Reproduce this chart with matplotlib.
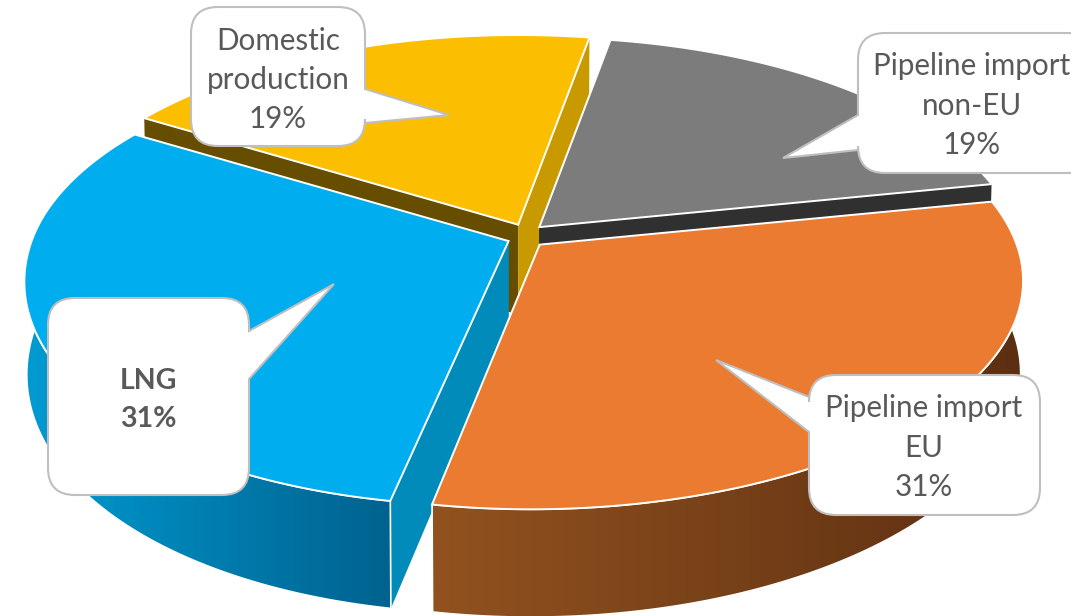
import numpy as np
import matplotlib
matplotlib.use('Agg')
import matplotlib.pyplot as plt
from matplotlib.colors import LinearSegmentedColormap
from matplotlib.patches import PathPatch, Polygon
from matplotlib.path import Path

categories = ['Pipeline import\nnon-EU', 'Pipeline import\nEU', 'LNG', 'Domestic\nproduction']
values = [19, 31, 31, 19]
top_colors = ['#7C7C7C', '#EB7B30', '#00AEEF', '#FBBE00']
start_wall = ['#303030', '#8A4B20', '#008BBB', '#664D00']
end_wall = ['#303030', '#8A4B20', '#008BBB', '#C99900']
outer_left = ['#303030', '#92521F', '#009BD2', '#664D00']
outer_right = ['#303030', '#5C2F12', '#00628F', '#664D00']

# callouts: box x0, x1, y0, y1, pointer tip, pointer base on the side
boxes = [(858, 1095, 33, 173), (809, 1040, 375, 515), (48, 249, 298, 495), (191, 365, 7, 146)]
tips = [(783, 158), (716, 360), (334, 284), (449, 115)]
bases = [(115, 150), (397, 432), (331, 379), (89, 123)]
text_x = [972, 924, 148, 278]
text_y = [106, 448, 400, 80]
bold = [False, False, True, False]

# pie geometry
cx, cy = 526, 236
R, A = 477, 221
k = 0.165
depth = 90
shrink = 0.995
front_skew = [0, 9, 20, 0]
explode_x, explode_y = 0.04, 0.056
start_angle = 80


def rim(t, ax0, ay0, skew, x_scale=1.0, drop=0.0):
    c, s = np.cos(t), np.sin(t)
    d = 1 + k * s
    x = R * c / d - skew * np.minimum(s, 0) ** 2
    return ax0 + x_scale * x, ay0 - A * s / d + drop / d


def callout_path(box, tip, base, r=27):
    x0, x1, y0, y1 = box
    verts = [(x0 + r, y0), (x1 - r, y0), (x1, y0), (x1, y0 + r)]
    codes = [Path.MOVETO, Path.LINETO, Path.CURVE3, Path.CURVE3]
    if tip[0] > x1:
        verts += [(x1, base[0]), tip, (x1, base[1])]
        codes += [Path.LINETO] * 3
    verts += [(x1, y1 - r), (x1, y1), (x1 - r, y1), (x0 + r, y1), (x0, y1), (x0, y1 - r)]
    codes += [Path.LINETO, Path.CURVE3, Path.CURVE3, Path.LINETO, Path.CURVE3, Path.CURVE3]
    if tip[0] < x0:
        verts += [(x0, base[1]), tip, (x0, base[0])]
        codes += [Path.LINETO] * 3
    verts += [(x0, y0 + r), (x0, y0), (x0 + r, y0), (x0 + r, y0)]
    codes += [Path.LINETO, Path.CURVE3, Path.CURVE3, Path.CLOSEPOLY]
    return Path(verts, codes)


fig = plt.figure(figsize=(10.71, 6.16), dpi=100)
ax = fig.add_axes([0, 0, 1, 1])
ax.set_axis_off()

angles = start_angle - np.cumsum([0] + values) * 3.6
mids = np.radians((angles[:-1] + angles[1:]) / 2)

# back slices first so the front ones cover them
for rank, i in enumerate(np.argsort(-np.sin(mids))):
    t0, t1 = np.radians(angles[i]), np.radians(angles[i + 1])
    ax0 = cx + R * explode_x * np.cos(mids[i])
    ay0 = cy - A * explode_y * np.sin(mids[i])
    t = np.linspace(t0, t1, 200)
    xt, yt = rim(t, ax0, ay0, front_skew[i])
    xb, yb = rim(t, ax0, ay0, front_skew[i], shrink, depth)
    z = rank * 3 + 1

    # flat cut walls
    for col, end in ((start_wall[i], 0), (end_wall[i], -1)):
        wall = [(ax0, ay0), (xt[end], yt[end]), (xb[end], yb[end]), (ax0, ay0 + depth)]
        ax.add_patch(Polygon(wall, closed=True, fc=col, ec='none', zorder=z))

    # curved outer wall, shaded left to right; only the front slices show it
    if np.sin(mids[i]) < 0:
        outer = np.column_stack([np.r_[xt, xb[::-1]], np.r_[yt, yb[::-1]]])
        patch = Polygon(outer, closed=True, fc='none', ec='white', lw=1.2, zorder=z + 0.5)
        ax.add_patch(patch)
        cmap = LinearSegmentedColormap.from_list('wall', [outer_left[i], outer_right[i]])
        im = ax.imshow(np.linspace(0, 1, 256)[None, :], cmap=cmap, aspect='auto', zorder=z + 0.2,
                       extent=(outer[:, 0].min(), outer[:, 0].max(), outer[:, 1].max(), outer[:, 1].min()))
        im.set_clip_path(patch)

    top = np.vstack([[ax0, ay0], np.column_stack([xt, yt])])
    ax.add_patch(Polygon(top, closed=True, fc=top_colors[i], ec='white', lw=1.4,
                         joinstyle='miter', zorder=z + 1))

for i, name in enumerate(categories):
    ax.add_patch(PathPatch(callout_path(boxes[i], tips[i], bases[i]), fc='white', ec='#BFBFBF',
                           lw=1.5, zorder=20))
    ax.text(text_x[i], text_y[i], '{}\n{}%'.format(name, values[i]), ha='center', va='center',
            fontsize=20.5 if bold[i] else 21.3, family='Lato', color='#595959',
            fontweight='bold' if bold[i] else 'normal',
            linespacing=1.6 if bold[i] else 1.5, zorder=21)

ax.set_xlim(0, 1071)
ax.set_ylim(616, 0)
fig.savefig('out.png', dpi=100)
